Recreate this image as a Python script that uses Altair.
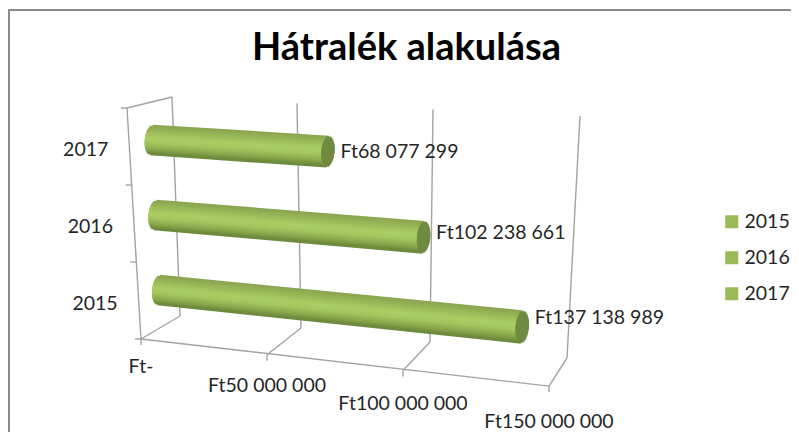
import math
import altair as alt
import pandas as pd

TITLE = "Hátralék alakulása"
YEARS = ["2015", "2016", "2017"]
VALUES = [137138989, 102238661, 68077299]
AXIS_TICKS = [0, 50000000, 100000000, 150000000]
AXIS_LABELS = ["Ft-", "Ft50 000 000", "Ft100 000 000", "Ft150 000 000"]

FONT = "Lato"
GRID = "#a3a3a3"
STOPS = [(-1.0, (0x8a, 0xa5, 0x50)), (-0.6, (0x98, 0xb7, 0x57)), (-0.1, (0xab, 0xcf, 0x64)),
         (0.25, (0xa3, 0xc6, 0x5e)), (0.65, (0x8d, 0xab, 0x4e)), (1.0, (0x6e, 0x8a, 0x3c))]
CAP = "#6f8b41"


# A hand-fitted perspective for the Excel 3D box: value, depth (0 front, 1 back), height (0..1)
def project(v, d, h):
    t = v / 50000000
    fx, fy = 141 + 121 * t + 5 * t * t, 339 + 15.7 * t
    bx, by = 180 + 117 * t + 4 * t * t, 316 + 11 * t + t * t
    tx, ty = 172 + 119.5 * t + 5.5 * t * t, 97 + 6.3 * t
    gx, gy = 127 + 126 * t + 6 * t * t, 108 + 8.6 * t
    lowx, lowy = fx + d * (bx - fx), fy + d * (by - fy)
    topx, topy = gx + d * (tx - gx), gy + d * (ty - gy)
    return lowx + h * (topx - lowx), lowy + h * (topy - lowy)


def shade(u):
    for (a, ca), (b, cb) in zip(STOPS, STOPS[1:]):
        if u <= b:
            f = (u - a) / (b - a)
            c = [round(x + f * (y - x)) for x, y in zip(ca, cb)]
            return "#%02x%02x%02x" % tuple(c)
    return "#6e8a3c"


def seg(p, q):
    return {"x": p[0], "y": p[1], "x2": q[0], "y2": q[1]}


# Box lines
grid_rows = []
top_v = AXIS_TICKS[-1]
for v in AXIS_TICKS:
    grid_rows.append(seg(project(v, 0, 0), project(v, 1, 0)))
    grid_rows.append(seg(project(v, 1, 0), project(v, 1, 1)))
    fx, fy = project(v, 0, 0)
    grid_rows.append(seg((fx, fy), (fx, fy + 6)))
grid_rows.append(seg(project(0, 0, 0), project(top_v, 0, 0)))
grid_rows.append(seg(project(0, 0, 0), project(0, 0, 1)))
grid_rows.append(seg(project(0, 0, 1), project(0, 1, 1)))
for i in range(4):
    x, y = project(0, 0, i / 3)
    grid_rows.append(seg((x, y), (x - 6, y)))
grid = pd.DataFrame(grid_rows)

# Cylinders, built from thin slices along their length
N = 30
A = 6.6
SW = 2.6
body, cap = [], []
for i, val in enumerate(VALUES):
    h = (i + 0.5) / 3
    x0, y0 = project(0, 0.5, h)
    x1, y1 = project(val, 0.5, h)
    r0 = 14.0
    r1 = 14.0 + 0.5 * val / 50000000
    for k in range(N + 1):
        u = -1 + 2 * k / N
        w = math.sqrt(max(0, 1 - u * u)) * A
        tilt = -1.2 * u
        p = (x0 - w + tilt, y0 + r0 * u)
        q = (x1 + tilt, y1 + r1 * u)
        row = seg(p, q)
        row["c"] = shade(u)
        body.append(row)
        cap.append(seg((x1 - w + tilt, y1 + r1 * u), (x1 + w + tilt, y1 + r1 * u)))
body = pd.DataFrame(body)
cap = pd.DataFrame(cap)

# Texts
val_rows, cat_rows, tick_rows = [], [], []
for i, (yr, val) in enumerate(zip(YEARS, VALUES)):
    h = (i + 0.5) / 3
    x, y = project(val, 0.5, h)
    val_rows.append({"x": x + 12.5, "y": y + 3 - 15 * (1 - h), "t": "Ft" + f"{val:,}".replace(",", " ")})
    x, y = project(0, 0, h)
    cat_rows.append({"x": x - 21, "y": y + 3, "t": yr})
for v, lab in zip(AXIS_TICKS, AXIS_LABELS):
    x, y = project(v, 0, 0)
    t = v / 50000000
    tick_rows.append({"x": x, "y": y + 28 + 4 * t - 0.5 * t * t, "t": lab})

xs = alt.Scale(domain=[8, 791], nice=False, zero=False)
ys = alt.Scale(domain=[432, 8], nice=False, zero=False)
X = alt.X("x:Q", scale=xs, axis=None)
Y = alt.Y("y:Q", scale=ys, axis=None)

frame_top = alt.Chart(pd.DataFrame({"a": [0]})).mark_rule(color="#8c8c8c", strokeWidth=2).encode(
    x=alt.value(0), x2=alt.value(783), y=alt.value(2))
frame_left = alt.Chart(pd.DataFrame({"a": [0]})).mark_rule(color="#8c8c8c", strokeWidth=2).encode(
    x=alt.value(1), y=alt.value(2), y2=alt.value(424))

grid_layer = alt.Chart(grid).mark_rule(color=GRID, strokeWidth=1.4).encode(x=X, y=Y, x2="x2:Q", y2="y2:Q")
body_layer = alt.Chart(body).mark_rule(strokeWidth=SW, strokeCap="butt").encode(
    x=X, y=Y, x2="x2:Q", y2="y2:Q", color=alt.Color("c:N", scale=None, legend=None))
cap_layer = alt.Chart(cap).mark_rule(strokeWidth=SW, color=CAP).encode(x=X, y=Y, x2="x2:Q", y2="y2:Q")


def text_layer(rows, align):
    return alt.Chart(pd.DataFrame(rows)).mark_text(
        font=FONT, fontSize=19.5, color="#262626", align=align, baseline="middle").encode(x=X, y=Y, text="t:N")


legend_layer = alt.Chart(pd.DataFrame({"Year": YEARS, "x": [400] * 3, "y": [200] * 3})).mark_square(
    size=1, opacity=0).encode(
    x=X, y=Y,
    fill=alt.Fill("Year:N", scale=alt.Scale(domain=YEARS, range=["#9bbb59"] * 3),
                  legend=alt.Legend(orient="none", legendX=714, legendY=204, title=None, symbolType="square",
                                    symbolSize=170, symbolOpacity=1, symbolStrokeWidth=0, labelFont=FONT,
                                    labelFontSize=19.5, labelColor="#262626", rowPadding=15, labelOffset=3)))

chart = alt.layer(
    frame_top, frame_left, grid_layer, body_layer, cap_layer,
    text_layer(val_rows, "left"), text_layer(cat_rows, "right"), text_layer(tick_rows, "center"),
    legend_layer,
).properties(
    width=783, height=424, padding=0, autosize=alt.AutoSizeParams(type="none"),
    title=alt.TitleParams(TITLE, font=FONT, fontSize=38, fontWeight="bold", color="#000000",
                          anchor="middle", baseline="top", dy=60, dx=7, offset=0),
    background="white",
).configure_view(stroke=None)

chart.save("out.html", embed_options={"renderer": "svg", "actions": False})
